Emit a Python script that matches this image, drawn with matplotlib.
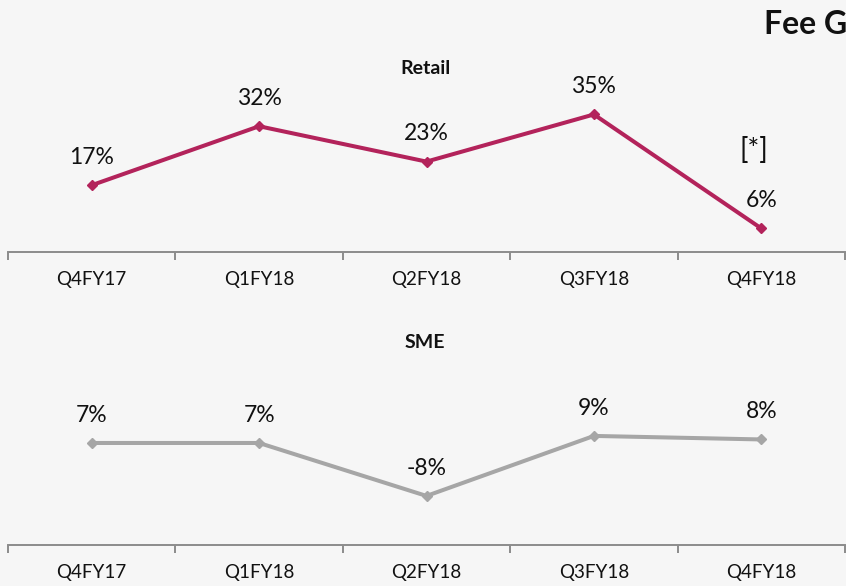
import matplotlib
matplotlib.use("Agg")
import matplotlib.pyplot as plt

# data
quarters = ["Q4FY17", "Q1FY18", "Q2FY18", "Q3FY18", "Q4FY18"]
retail = [17, 32, 23, 35, 6]
sme = [7, 7, -8, 9, 8]

plt.rcParams['font.family'] = ['Lato', 'DejaVu Sans']

W, H = 846, 586
fig = plt.figure(figsize=(W / 100, H / 100), dpi=100)
fig.patch.set_facecolor('#f6f6f6')


def px_axes(left, bottom, width, height):
    # pixel box (from top-left) -> figure fraction
    return fig.add_axes([left / W, (H - bottom) / H, width / W, height / H])


def draw_panel(ax, values, color, ylim, note=None):
    x = range(len(values))
    ax.plot(x, values, color=color, lw=2.9, marker='D', ms=5, mec=color, mfc=color)
    for i, v in enumerate(values):
        ax.annotate("%d%%" % v, (i, v), xytext=(0, 20), textcoords='offset points',
                    ha='center', va='center', fontsize=16.5, color='#111111')
    if note:
        i = len(values) - 1
        ax.annotate(note, (i, values[i]), xytext=(-5, 56), textcoords='offset points',
                    ha='center', va='center', fontsize=20, color='#111111')
    ax.set_xlim(-0.5, len(values) - 0.5)
    ax.set_ylim(*ylim)
    ax.set_facecolor('none')
    for s in ['top', 'right', 'left']:
        ax.spines[s].set_visible(False)
    ax.spines['bottom'].set_color('#8c8c8c')
    ax.spines['bottom'].set_linewidth(1.4)
    ax.set_yticks([])
    ax.set_xticks([i - 0.5 for i in range(len(values) + 1)])
    ax.set_xticklabels([])
    ax.set_xticks(list(x), minor=True)
    ax.set_xticklabels(quarters, minor=True, fontsize=13.5, color='#111111')
    ax.tick_params(axis='x', which='major', length=6, width=1.4, color='#8c8c8c', direction='out')
    ax.tick_params(axis='x', which='minor', length=0, pad=14)


ax1 = px_axes(8, 252, 837, 184)
draw_panel(ax1, retail, '#b3235b', (0, 184 / 3.93), note='[*]')

ax2 = px_axes(8, 545, 837, 203)
draw_panel(ax2, sme, '#a6a6a6', (-21.9, -21.9 + 203 / 3.53))

# panel titles
fig.text(425 / W, 1 - 68 / H, "Retail", fontsize=14, fontweight='bold',
         color='#111111', ha='center', va='center')
fig.text(425 / W, 1 - 342 / H, "SME", fontsize=14, fontweight='bold',
         color='#111111', ha='center', va='center')

# page heading, cut off by the right edge as in the slide
fig.text(764 / W, 1 - 24 / H, "Fee G", fontsize=23, fontweight='bold',
         color='#111111', ha='left', va='center')

fig.savefig('out.png', dpi=100, facecolor=fig.get_facecolor())
